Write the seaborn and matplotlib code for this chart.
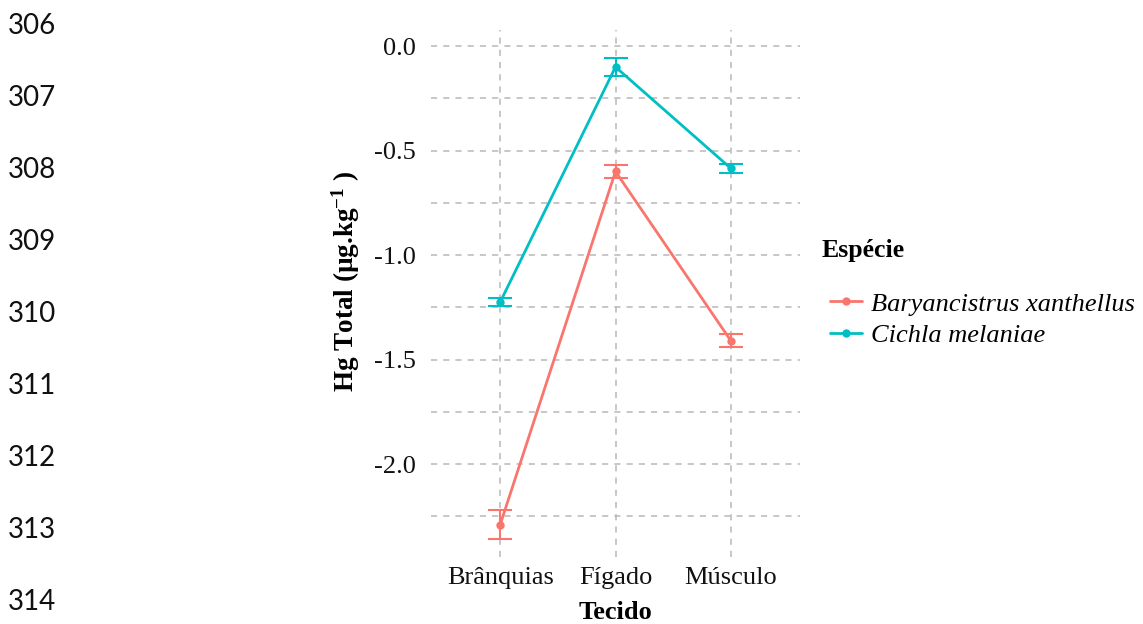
import matplotlib
matplotlib.use("Agg")
import matplotlib.pyplot as plt
import seaborn as sns
import pandas as pd
import numpy as np

# ---- data ----
tecidos = ["Brânquias", "Fígado", "Músculo"]
especies = ["Baryancistrus xanthellus", "Cichla melaniae"]
media_baryancistrus = [-2.29, -0.60, -1.41]
erro_baryancistrus = [0.07, 0.03, 0.03]
media_cichla = [-1.225, -0.10, -0.585]
erro_cichla = [0.02, 0.045, 0.02]
yticks = [0.0, -0.5, -1.0, -1.5, -2.0]
line_numbers = ["306", "307", "308", "309", "310", "311", "312", "313", "314"]

df = pd.DataFrame({
    "Tecido": tecidos * 2,
    "Espécie": [especies[0]] * 3 + [especies[1]] * 3,
    "Hg": media_baryancistrus + media_cichla,
    "erro": erro_baryancistrus + erro_cichla,
})

sns.set_theme(style="white")
plt.rcParams["font.family"] = ["Liberation Serif", "DejaVu Serif"]
plt.rcParams["mathtext.fontset"] = "custom"
plt.rcParams["mathtext.rm"] = "Liberation Serif"
plt.rcParams["mathtext.bf"] = "Liberation Serif:bold"
plt.rcParams["mathtext.it"] = "Liberation Serif:italic"
plt.rcParams["text.color"] = "black"
plt.rcParams["axes.labelcolor"] = "black"

W, H = 1143, 624
fig = plt.figure(figsize=(W / 100, H / 100), dpi=100)
ax = fig.add_axes([431 / W, 1 - 557 / H, (800 - 431) / W, (557 - 30) / H])

palette = {especies[0]: "#F8766D", especies[1]: "#00BFC4"}

sns.pointplot(data=df, x="Tecido", y="Hg", hue="Espécie", order=tecidos,
              hue_order=especies, palette=palette, errorbar=None,
              markers="o", markersize=4.5, linewidth=2, dodge=False, ax=ax)

for sp in especies:
    sub = df[df["Espécie"] == sp].set_index("Tecido").loc[tecidos]
    ax.errorbar(np.arange(len(tecidos)), sub["Hg"], yerr=sub["erro"],
                fmt="none", ecolor=palette[sp], elinewidth=1.5, capsize=8.5,
                capthick=1.5, zorder=1)

ax.set_xlim(-0.6, 2.6)
ax.set_ylim(-2.445, 0.077)
ax.set_yticks(yticks)
ax.set_yticklabels([f"{v:.1f}" for v in yticks])
ax.set_yticks([-0.25, -0.75, -1.25, -1.75, -2.25], minor=True)
ax.grid(True, which="both", axis="both", linestyle=(0, (4, 4)),
        color="#b8b8b8", linewidth=1.1)
ax.set_axisbelow(True)
for s in ax.spines.values():
    s.set_visible(False)
ax.tick_params(axis="both", which="both", length=0, labelsize=19,
               labelcolor="#111111")
ax.tick_params(axis="y", pad=11)
ax.tick_params(axis="x", pad=7)
ax.set_xlabel("Tecido", fontsize=19, fontweight="bold", labelpad=9)
ax.set_ylabel(r"Hg Total (µg.kg$^{\mathbf{-1}}$ )", fontsize=19.5,
              fontweight="bold")
ax.yaxis.set_label_coords((346 - 431) / (800 - 431), (557 - 281) / (557 - 30))
ax.yaxis.label.set_va("center")

handles, labels = ax.get_legend_handles_labels()
if ax.get_legend() is not None:
    ax.get_legend().remove()
fig.text(822 / W, 1 - 251 / H, "Espécie", fontsize=18.5, fontweight="bold",
         va="center", ha="left")
fig.legend(handles, labels, loc="upper left",
           bbox_to_anchor=(817 / W, 1 - 279 / H), frameon=False,
           prop={"family": "Liberation Serif", "style": "italic", "size": 19},
           handlelength=1.2, handletextpad=0.35, labelspacing=0.3,
           borderpad=0)

for i, ln in enumerate(line_numbers):
    fig.text(8 / W, 1 - (26 + i * 72) / H, ln, fontsize=20, family="Lato",
             va="center", ha="left", color="#111111")

fig.savefig("out.png", dpi=100)
